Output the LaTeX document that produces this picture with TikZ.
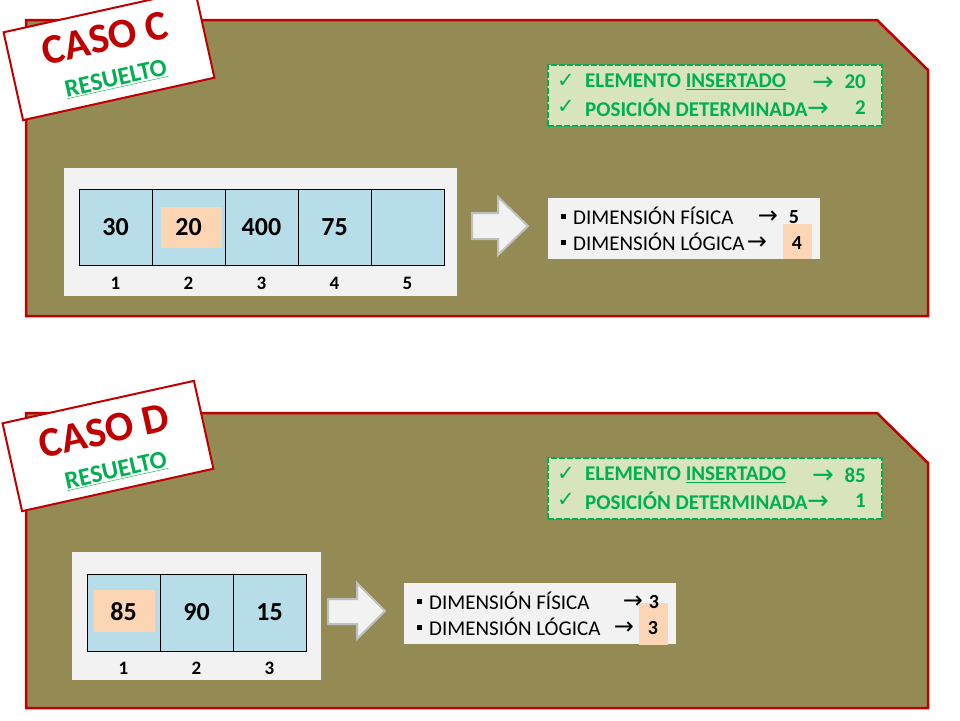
\documentclass[tikz,border=0pt]{standalone}
\usepackage{fontspec}
\setmainfont{Carlito}
\newfontfamily\symfont{DejaVu Sans}
\usepackage{tikz}
\usetikzlibrary{positioning}

\definecolor{panelolive}{HTML}{948A54}
\definecolor{casered}{HTML}{C00000}
\definecolor{okgreen}{HTML}{00B050}
\definecolor{okfill}{HTML}{D8E4BC}
\definecolor{boxgray}{HTML}{F2F2F2}
\definecolor{cellblue}{HTML}{B7DEE8}
\definecolor{peach}{HTML}{FCD5B5}
\definecolor{arrowgray}{HTML}{BFBFBF}

\tikzset{
  panel/.style={fill=panelolive,draw=casered,line width=2.5pt,line join=miter},
  casetag/.style={fill=white,draw=casered,line width=2pt,rotate=12.5,minimum width=196pt,minimum height=90pt},
  casetitle/.style={text=casered,font=\bfseries\fontsize{42}{44}\selectfont,rotate=12.5,inner sep=0pt},
  casesub/.style={text=okgreen,font=\bfseries\fontsize{25}{26}\selectfont,rotate=12.5,inner sep=0pt},
  okbox/.style={fill=okfill,draw=okgreen,line width=2.5pt,dash pattern=on 6pt off 2pt},
  oktext/.style={text=okgreen,font=\bfseries\fontsize{21}{23}\selectfont,inner sep=0pt},
  okarrow/.style={text=okgreen,font=\symfont\fontsize{26}{28}\selectfont,inner sep=0pt,yshift=-1.5pt},
  graybox/.style={fill=boxgray,draw=none},
  cell/.style={fill=cellblue,draw=black,line width=0.6pt,minimum width=73pt,minimum height=76pt},
  peachmark/.style={fill=peach,draw=none},
  value/.style={font=\bfseries\fontsize{26}{28}\selectfont,inner sep=0pt},
  index/.style={font=\bfseries\fontsize{19}{21}\selectfont,inner sep=0pt},
  dimtext/.style={font=\fontsize{21}{23}\selectfont,inner sep=0pt},
  dimarrow/.style={font=\symfont\fontsize{24}{26}\selectfont,inner sep=0pt,yshift=-1.5pt},
  dimvalue/.style={font=\bfseries\fontsize{20}{22}\selectfont,inner sep=0pt},
  bulletsq/.style={fill=black,minimum size=5pt,inner sep=0pt},
  blockarrow/.style={fill=boxgray,draw=arrowgray,line width=2pt,line join=miter}
}

\begin{document}
\begin{tikzpicture}[x=1pt,y=-1pt]
  \useasboundingbox (0,0) rectangle (960,720);

  % Caso C (top)
  \draw[panel] (26,20) -- (877,20) -- (928,70) -- (928,316) -- (26,316) -- cycle;
  \node[casetag] (tagC) at (109,55) {};
  \node[casetitle] (titC) at (105,38) {CASO C};
  \node[casesub] (subC) at (116,79) {\underline{RESUELTO}};

  \node[okbox,minimum width=334pt,minimum height=61pt] (okC) at (715,95.5) {};
  \node[oktext] (chkC1) at (566,81) {\symfont\mdseries ✓};
  \node[oktext] (chkC2) at (566,107) {\symfont\mdseries ✓};
  \node[oktext,anchor=west] (elemC) at (585,82) {ELEMENTO \underline{INSERTADO}};
  \node[oktext,anchor=west] (posC) at (585,108) {POSICIÓN DETERMINADA};
  \node[okarrow] (toC1) at (823,82) {→};
  \node[okarrow] (toC2) at (818,108) {→};
  \node[oktext,anchor=east] (valC1) at (866,82) {20};
  \node[oktext,anchor=east] (valC2) at (866,108) {2};

  \node[graybox,minimum width=393pt,minimum height=128pt] (arrC) at (260.5,232) {};
  \foreach \i in {1,...,5} {
    \node[cell] (cC\i) at (42.5+73*\i,227) {};
    \node[index] (iC\i) at (42.5+73*\i,283) {\i};
  }
  \node[peachmark,minimum width=61pt,minimum height=41pt] (markC) at (191.5,227.5) {};
  \foreach \v [count=\i] in {30,20,400,75}
    \node[value] (vC\i) at (42.5+73*\i,227) {\v};

  \draw[blockarrow] (472,213) -- (498,213) -- (498,197) -- (528,226) -- (498,255) -- (498,239) -- (472,239) -- cycle;

  \node[graybox,minimum width=272pt,minimum height=61pt] (dimC) at (684,228.5) {};
  \node[peachmark,minimum width=29pt,minimum height=35pt] (markdC) at (797.5,241.5) {};
  \node[bulletsq] (bC1) at (563,216) {};
  \node[bulletsq] (bC2) at (563,242) {};
  \node[dimtext,anchor=west] (fisC) at (573,216) {DIMENSIÓN FÍSICA};
  \node[dimtext,anchor=west] (logC) at (573,242) {DIMENSIÓN LÓGICA};
  \node[dimarrow] (toC3) at (768,216) {→};
  \node[dimarrow] (toC4) at (757,242) {→};
  \node[dimvalue] (fvC) at (794,217) {5};
  \node[dimvalue] (lvC) at (797,243) {4};

  % Caso D (bottom)
  \draw[panel] (26,413) -- (877,413) -- (928,463) -- (928,708) -- (26,708) -- cycle;
  \node[casetag] (tagD) at (108,446) {};
  \node[casetitle] (titD) at (104,431) {CASO D};
  \node[casesub] (subD) at (116,471) {\underline{RESUELTO}};

  \node[okbox,minimum width=334pt,minimum height=61pt] (okD) at (715,488.5) {};
  \node[oktext] (chkD1) at (566,474) {\symfont\mdseries ✓};
  \node[oktext] (chkD2) at (566,500) {\symfont\mdseries ✓};
  \node[oktext,anchor=west] (elemD) at (585,475) {ELEMENTO \underline{INSERTADO}};
  \node[oktext,anchor=west] (posD) at (585,501) {POSICIÓN DETERMINADA};
  \node[okarrow] (toD1) at (823,475) {→};
  \node[okarrow] (toD2) at (818,501) {→};
  \node[oktext,anchor=east] (valD1) at (866,475) {85};
  \node[oktext,anchor=east] (valD2) at (866,501) {1};

  \node[graybox,minimum width=249pt,minimum height=128pt] (arrD) at (196.5,616) {};
  \foreach \i in {1,2,3} {
    \node[cell,minimum height=77pt] (cD\i) at (50.5+73*\i,612.5) {};
    \node[index] (iD\i) at (50.5+73*\i,668) {\i};
  }
  \node[peachmark,minimum width=61pt,minimum height=42pt] (markD) at (124.5,611) {};
  \foreach \v [count=\i] in {85,90,15}
    \node[value] (vD\i) at (50.5+73*\i,612) {\v};

  \draw[blockarrow] (328,599) -- (357,599) -- (357,583) -- (385,611) -- (357,639) -- (357,624) -- (328,624) -- cycle;

  \node[graybox,minimum width=272pt,minimum height=61pt] (dimD) at (540,613.5) {};
  \node[peachmark,minimum width=29pt,minimum height=42pt] (markdD) at (653.5,624) {};
  \node[bulletsq] (bD1) at (419,601) {};
  \node[bulletsq] (bD2) at (419,627) {};
  \node[dimtext,anchor=west] (fisD) at (429,601) {DIMENSIÓN FÍSICA};
  \node[dimtext,anchor=west] (logD) at (429,627) {DIMENSIÓN LÓGICA};
  \node[dimarrow] (toD3) at (633,601) {→};
  \node[dimarrow] (toD4) at (624,627) {→};
  \node[dimvalue] (fvD) at (654,602) {3};
  \node[dimvalue] (lvD) at (653,628) {3};
\end{tikzpicture}
\end{document}
